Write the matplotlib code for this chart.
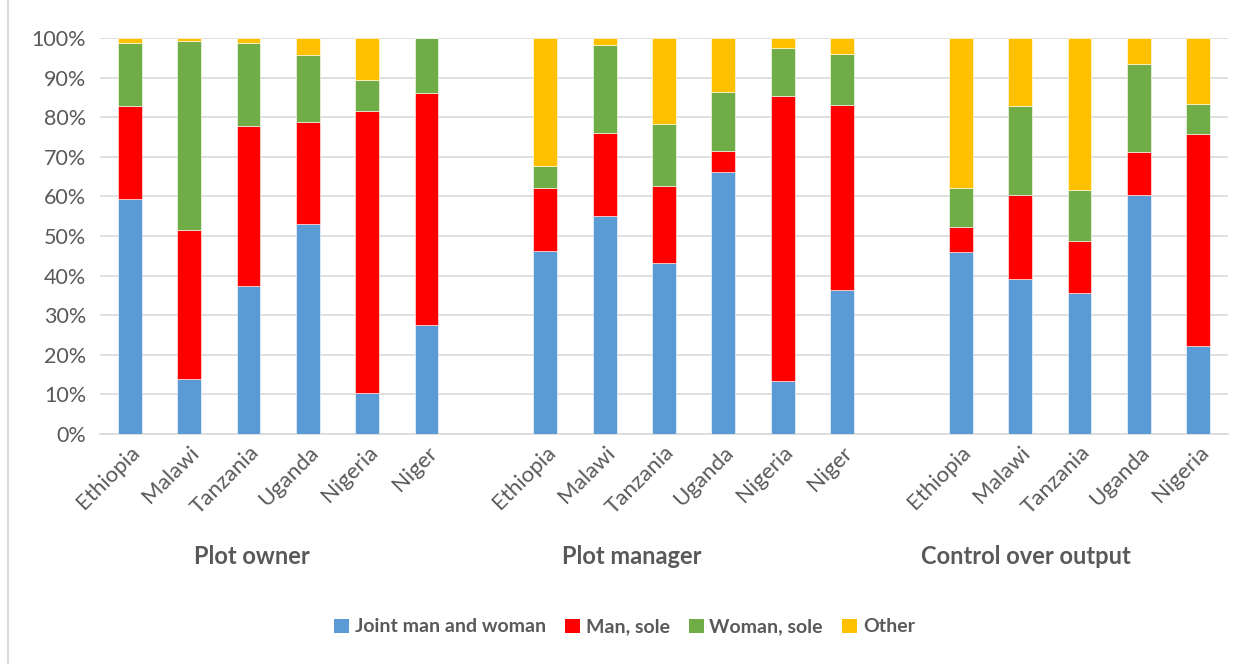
import matplotlib.pyplot as plt
import numpy as np
from matplotlib.patches import Patch
from matplotlib.lines import Line2D
from matplotlib.ticker import FuncFormatter

plt.rcParams['font.family'] = ['Lato', 'DejaVu Sans']

# categories: three groups, blank slot between them
countries = ['Ethiopia', 'Malawi', 'Tanzania', 'Uganda', 'Nigeria', 'Niger', '',
             'Ethiopia', 'Malawi', 'Tanzania', 'Uganda', 'Nigeria', 'Niger', '',
             'Ethiopia', 'Malawi', 'Tanzania', 'Uganda', 'Nigeria']
groups = ['Plot owner', 'Plot manager', 'Control over output']
series = ['Joint man and woman', 'Man, sole', 'Woman, sole', 'Other']

joint = [59.3, 13.9, 37.4, 53.1, 10.4, 27.4, 0,
         46.2, 55.1, 43.1, 66.2, 13.4, 36.3, 0,
         46.0, 39.1, 35.6, 60.4, 22.2]
man = [23.6, 37.5, 40.5, 25.6, 71.1, 58.6, 0,
       15.9, 20.9, 19.6, 5.3, 72.0, 46.9, 0,
       6.3, 21.3, 13.2, 10.9, 53.5]
woman = [15.8, 47.9, 20.9, 16.9, 7.8, 14.0, 0,
         5.7, 22.3, 15.6, 14.9, 12.2, 12.7, 0,
         9.9, 22.5, 12.9, 22.1, 7.7]
other = [1.3, 0.7, 1.2, 4.4, 10.7, 0.0, 0,
         32.2, 1.7, 21.7, 13.6, 2.4, 4.1, 0,
         37.8, 17.1, 38.3, 6.6, 16.6]

colors = ['#5B9BD5', '#FF0000', '#70AD47', '#FFC000']
txt = '#595959'

fig = plt.figure(figsize=(12.49, 6.64), dpi=100)
ax = fig.add_axes([100 / 1249, 1 - 434 / 664, 1128 / 1249, 396 / 664])

x = np.arange(len(countries))
bottom = np.zeros(len(countries))
for vals, c, name in zip([joint, man, woman, other], colors, series):
    vals = np.array(vals)
    ax.bar(x, vals, 0.4, bottom=bottom, color=c, label=name,
           edgecolor='white', linewidth=0.4, zorder=3)
    bottom += vals

ax.set_xlim(-0.5, len(countries) - 0.5)
ax.set_ylim(0, 100)
ax.set_yticks(np.arange(0, 101, 10))
ax.yaxis.set_major_formatter(FuncFormatter(lambda v, p: f'{v:.0f}%'))
ax.grid(axis='y', color='#D9D9D9', linewidth=1.2, zorder=0)
for s in ['top', 'right', 'left']:
    ax.spines[s].set_visible(False)
ax.spines['bottom'].set_color('#D9D9D9')
ax.spines['bottom'].set_linewidth(1.2)
ax.tick_params(axis='y', length=0, labelsize=15.5, labelcolor=txt, pad=10)

idx = [i for i, c in enumerate(countries) if c]
ax.set_xticks(idx)
ax.set_xticklabels([countries[i] for i in idx], rotation=45, ha='right',
                   rotation_mode='anchor', fontsize=16, color=txt)
ax.tick_params(axis='x', length=0, pad=6)

# group labels
for gx, g in zip([2.05, 8.45, 15.1], groups):
    ax.text(gx, -31, g, ha='center', va='center', fontsize=17,
            fontweight='bold', color=txt, transform=ax.transData, clip_on=False)

handles = [Patch(facecolor=c, label=s) for c, s in zip(colors, series)]
leg = fig.legend(handles=handles, loc='center', bbox_to_anchor=(0.5, 1 - 627 / 664),
                 ncol=4, frameon=False, handlelength=0.75, handleheight=0.75,
                 handletextpad=0.3, columnspacing=1.0,
                 prop={'size': 14, 'weight': 'bold'})
for t in leg.get_texts():
    t.set_color(txt)

# chart border line on the left
fig.add_artist(Line2D([8 / 1249, 8 / 1249], [0, 1], color='#D9D9D9', linewidth=1.5))

fig.savefig('out.png', dpi=100, facecolor='white')
